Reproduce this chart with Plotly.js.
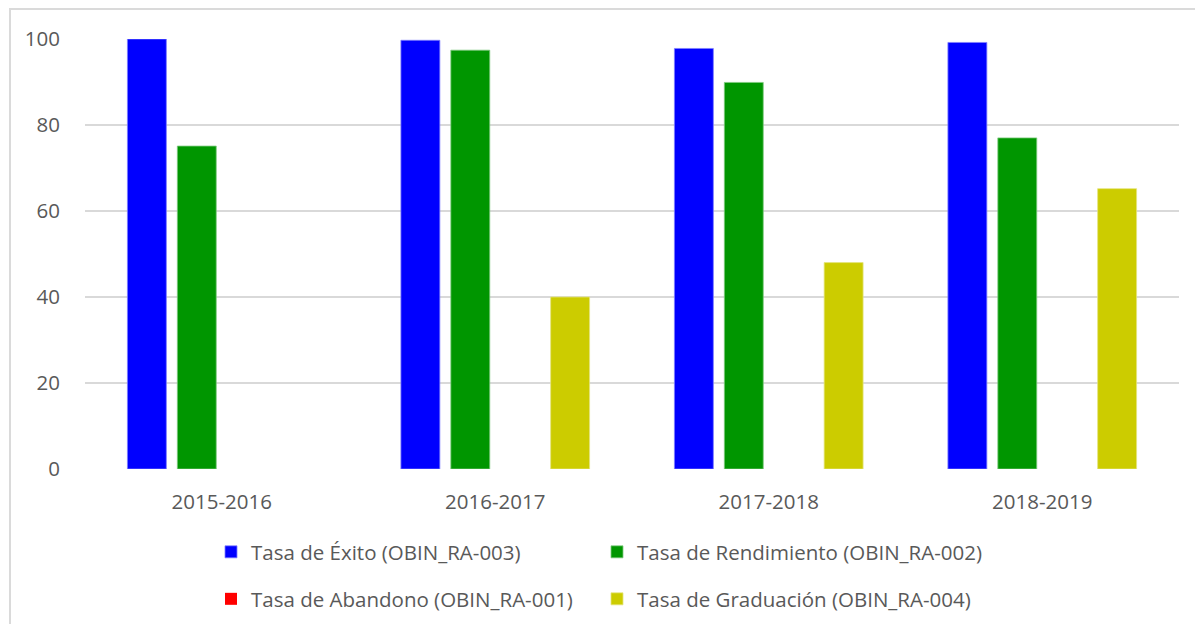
<!DOCTYPE html>
<html>
<head>
<meta charset="utf-8">
<script src="https://cdn.plot.ly/plotly-3.0.1.min.js"></script>
<style>
  html, body { margin: 0; padding: 0; background: #ffffff; }
  #chart { width: 1195px; height: 624px; position: relative; }
  #frame { position: absolute; left: 9px; top: 8px; width: 1300px; height: 800px;
           border-top: 2px solid #dadada; border-left: 2px solid #dadada; pointer-events: none; }
</style>
</head>
<body>
<div id="chart"></div>
<div id="frame"></div>
<script>
const categories = ["2015-2016", "2016-2017", "2017-2018", "2018-2019"];
const seriesNames = [
  "Tasa de Éxito (OBIN_RA-003)",
  "Tasa de Rendimiento (OBIN_RA-002)",
  "Tasa de Abandono (OBIN_RA-001)",
  "Tasa de Graduación (OBIN_RA-004)"
];
const tasaExito = [100, 99.7, 97.8, 99.2];
const tasaRendimiento = [75.1, 97.4, 89.9, 77.0];
const tasaAbandono = [0, 0, 0, 0];
const tasaGraduacion = [null, 40.0, 48.0, 65.2];
const yTicks = [0, 20, 40, 60, 80, 100];

const colors = ["#0000ff", "#009600", "#ff0000", "#cccc00"];
const lineColors = ["#7f7fff", "#7fca7f", "#ff0000", "#e5e57f"];
const lineWidths = [0.8, 0.8, 0, 0.8];
const values = [tasaExito, tasaRendimiento, tasaAbandono, tasaGraduacion];
const legendIds = ["legend", "legend", "legend2", "legend2"];

const traces = values.map((v, i) => ({
  type: "bar",
  name: seriesNames[i],
  x: categories,
  y: v,
  marker: { color: colors[i], line: { color: lineColors[i], width: lineWidths[i] } },
  legend: legendIds[i],
  hoverinfo: "x+y+name"
}));

const tickFont = { family: "Open Sans, sans-serif", size: 20.5, color: "#595959" };
const legendFont = { family: "Open Sans, sans-serif", size: 20.5, color: "#595959" };

const legendBase = {
  orientation: "h",
  xref: "container", yref: "container",
  xanchor: "left", yanchor: "middle",
  font: legendFont,
  entrywidth: 341, entrywidthmode: "pixels",
  bgcolor: "rgba(0,0,0,0)",
  itemclick: false, itemdoubleclick: false
};

const layout = {
  width: 1195, height: 624,
  margin: { l: 85, r: 16, t: 39, b: 155 },
  paper_bgcolor: "#ffffff",
  plot_bgcolor: "#ffffff",
  barmode: "group",
  bargap: 0.27,
  bargroupgap: 0.22,
  showlegend: true,
  xaxis: {
    type: "category",
    tickfont: tickFont,
    showgrid: false, zeroline: false, showline: false,
    ticks: "outside", ticklen: 14, tickcolor: "rgba(0,0,0,0)"
  },
  yaxis: {
    range: [0, 100],
    tickvals: yTicks,
    tickfont: tickFont,
    showgrid: true, gridcolor: "#d9d9d9", gridwidth: 1.5,
    zeroline: false, showline: false,
    ticks: "outside", ticklen: 20, tickcolor: "rgba(0,0,0,0)"
  },
  legend: Object.assign({}, legendBase, { x: 211 / 1195, y: (624 - 552) / 624 }),
  legend2: Object.assign({}, legendBase, { x: 211 / 1195, y: (624 - 599) / 624 })
};

Plotly.newPlot("chart", traces, layout, { displayModeBar: false, staticPlot: false });
</script>
</body>
</html>
